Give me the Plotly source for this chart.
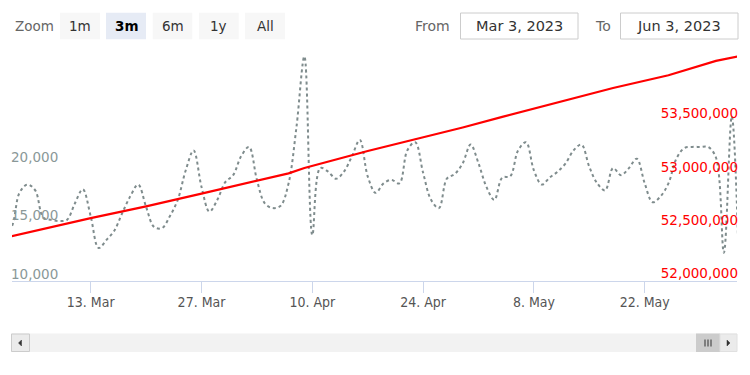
import pandas as pd
import plotly.graph_objects as go

# ---- data ----
gray_start = "2023-03-02"
gray_values = [
    14000, 14600, 17500, 18200, 17700, 15400, 15200, 15100, 15200, 16600,
    17800, 15500, 12800, 13500, 14300, 15800, 17200, 18200, 16300, 14600,
    14500, 15500, 16900, 19400, 21100, 18000, 15900, 16900, 18400, 19000,
    20600, 21400, 18600, 16600, 16200, 16400, 18300, 23100, 29100, 13900,
    19600, 19300, 18700, 19300, 20600, 22000, 18900, 17500, 18300, 18600,
    18300, 21100, 21800, 19200, 16900, 16200, 18700, 19100, 20000, 21600,
    20000, 18000, 16900, 18800, 18900, 21100, 21800, 19400, 18200, 18800,
    19300, 20000, 21100, 21600, 19700, 18300, 17700, 19600, 19000, 19600,
    20400, 18300, 16700, 17200, 18300, 20400, 21300, 21400, 21400, 21400,
    20500, 12400, 24000, 9000,
]
gray_dates = pd.date_range(gray_start, periods=len(gray_values), freq="D")

red_dates = ["2023-03-02", "2023-03-03", "2023-03-13", "2023-03-20", "2023-03-27",
             "2023-04-03", "2023-04-07", "2023-04-09", "2023-04-17", "2023-04-23",
             "2023-04-29", "2023-05-04", "2023-05-10", "2023-05-18", "2023-05-25",
             "2023-05-31", "2023-06-03"]
red_values = [52405000, 52420000, 52590000, 52700000, 52820000,
              52940000, 53010000, 53060000, 53220000, 53330000,
              53440000, 53540000, 53655000, 53810000, 53930000,
              54065000, 54110000]

x_tick_vals = ["2023-03-13", "2023-03-27", "2023-04-10", "2023-04-24", "2023-05-08", "2023-05-22"]
x_tick_text = ["13. Mar", "27. Mar", "10. Apr", "24. Apr", "8. May", "22. May"]
left_tick_vals = [10000, 15000, 20000]
left_tick_text = ["10,000", "15,000", "20,000"]
right_tick_vals = [52000000, 52500000, 53000000, 53500000]
right_tick_text = ["52,000,000", "52,500,000", "53,000,000", "53,500,000"]
zoom_buttons = ["1m", "3m", "6m", "1y", "All"]
from_text = "Mar 3, 2023"
to_text = "Jun 3, 2023"

# ---- layout geometry (page pixels; the page body has an 8px margin) ----
OX, OY = 8, 8
W, H = 750 - 2 * OX, 375 - 2 * OY
L, R, T, B = 12, 737, 52, 281          # plot area in page pixels
FONT = "DejaVu Sans"


def px(x):
    return (x - L) / (R - L)


def py(y):
    return (B - y) / (B - T)


fig = go.Figure()
fig.add_trace(go.Scatter(
    x=gray_dates, y=gray_values, mode="lines", yaxis="y",
    line=dict(color="#7f8c8d", width=2, dash="dot", shape="spline", smoothing=1.0),
    showlegend=False, hoverinfo="skip"))
fig.add_trace(go.Scatter(
    x=red_dates, y=red_values, mode="lines", yaxis="y2",
    line=dict(color="#ff0000", width=2.2),
    showlegend=False, hoverinfo="skip"))

fig.update_layout(
    width=W, height=H,
    margin=dict(l=L - OX, r=(W + OX) - R, t=T - OY, b=(H + OY) - B, pad=0),
    paper_bgcolor="white", plot_bgcolor="white",
    font=dict(family=FONT, size=13, color="#333333"),
    xaxis=dict(
        range=["2023-03-03 01:20", "2023-06-02 15:50"],
        tickvals=x_tick_vals, ticktext=x_tick_text,
        ticks="outside", ticklen=11, tickcolor="#ccd6eb", tickwidth=1,
        showline=True, linecolor="#ccd6eb", linewidth=1,
        showgrid=False, zeroline=False, ticklabelstandoff=-3,
        tickfont=dict(family="DejaVu Sans Condensed", size=14, color="#555555"),
    ),
    yaxis=dict(
        range=[10000, 10000 + (B - T) * 85.03],
        tickvals=left_tick_vals, ticktext=left_tick_text,
        ticklabelposition="inside top", ticklabeloverflow="allow",
        showgrid=False, zeroline=False,
        showline=False, ticks="", ticklabelstandoff=-4, ticklabelshift=3,
        tickfont=dict(family=FONT, size=13.5, color="#8a9898"),
    ),
    yaxis2=dict(
        range=[52000000, 52000000 + (B - T) * 9380],
        tickvals=right_tick_vals, ticktext=right_tick_text,
        overlaying="y", side="right",
        ticklabelposition="inside top", ticklabeloverflow="allow",
        showgrid=False, zeroline=False,
        showline=False, ticks="", ticklabelstandoff=-4, ticklabelshift=2,
        tickfont=dict(family=FONT, size=13.5, color="#ff0000"),
    ),
)

shapes = []
annotations = []


def rect(x0, y0, x1, y1, fill, line=None, lw=1):
    shapes.append(dict(type="rect", xref="paper", yref="paper",
                       x0=px(x0), x1=px(x1), y0=py(y1), y1=py(y0),
                       fillcolor=fill,
                       line=dict(color=line or fill, width=lw if line else 0),
                       layer="above"))


def text(x, y, s, size=13, color="#333333", anchor="center", bold=False, family=FONT):
    annotations.append(dict(xref="paper", yref="paper", x=px(x), y=py(y),
                            text=("<b>%s</b>" % s) if bold else s, showarrow=False,
                            xanchor=anchor, yanchor="middle",
                            font=dict(family=family, size=size, color=color)))


# range selector
text(12.5, 25.5, "Zoom", size=13.5, color="#666666", anchor="left")
btn_x = [(60, 100), (106, 146), (152.7, 192.3), (199, 238.7), (245, 285)]
for (x0, x1), lab in zip(btn_x, zoom_buttons):
    sel = lab == "3m"
    rect(x0, 12.7, x1, 39.3, "#e6ebf5" if sel else "#f7f7f7")
    text((x0 + x1) / 2, 25.5, lab, size=13.5, color="#000000" if sel else "#333333", bold=sel)

# from / to inputs
text(413, 25.5, "From", size=14, color="#666666", anchor="left")
rect(460.5, 13, 578, 39, "#ffffff", line="#cccccc")
text(519, 25.5, from_text, size=14.5, color="#333333")
text(592.5, 25.5, "To", size=14, color="#666666", anchor="left")
rect(620.5, 13, 738, 39, "#ffffff", line="#cccccc")
text(679, 25.5, to_text, size=14.5, color="#333333")

# scrollbar
rect(11, 333.5, 737, 352, "#f2f2f2")
rect(11.5, 334, 29.5, 351.5, "#ebebeb", line="#cccccc")
rect(696, 333.5, 720, 352, "#cccccc")
rect(720, 334, 737, 351.5, "#ebebeb", line="#e0e0e0")
for gx in (705, 708, 711):
    shapes.append(dict(type="line", xref="paper", yref="paper",
                       x0=px(gx), x1=px(gx), y0=py(339.5), y1=py(346.5),
                       line=dict(color="#333333", width=1), layer="above"))


def tri(pts):
    d = "M " + " L ".join("%f,%f" % (px(a), py(b)) for a, b in pts) + " Z"
    shapes.append(dict(type="path", xref="paper", yref="paper", path=d,
                       fillcolor="#333333", line=dict(color="#333333", width=0.5),
                       layer="above"))


tri([(21.5, 340), (18.5, 343), (21.5, 346)])
tri([(727, 340), (730, 343), (727, 346)])

fig.update_layout(shapes=shapes, annotations=annotations)
fig.write_html("out.html")
